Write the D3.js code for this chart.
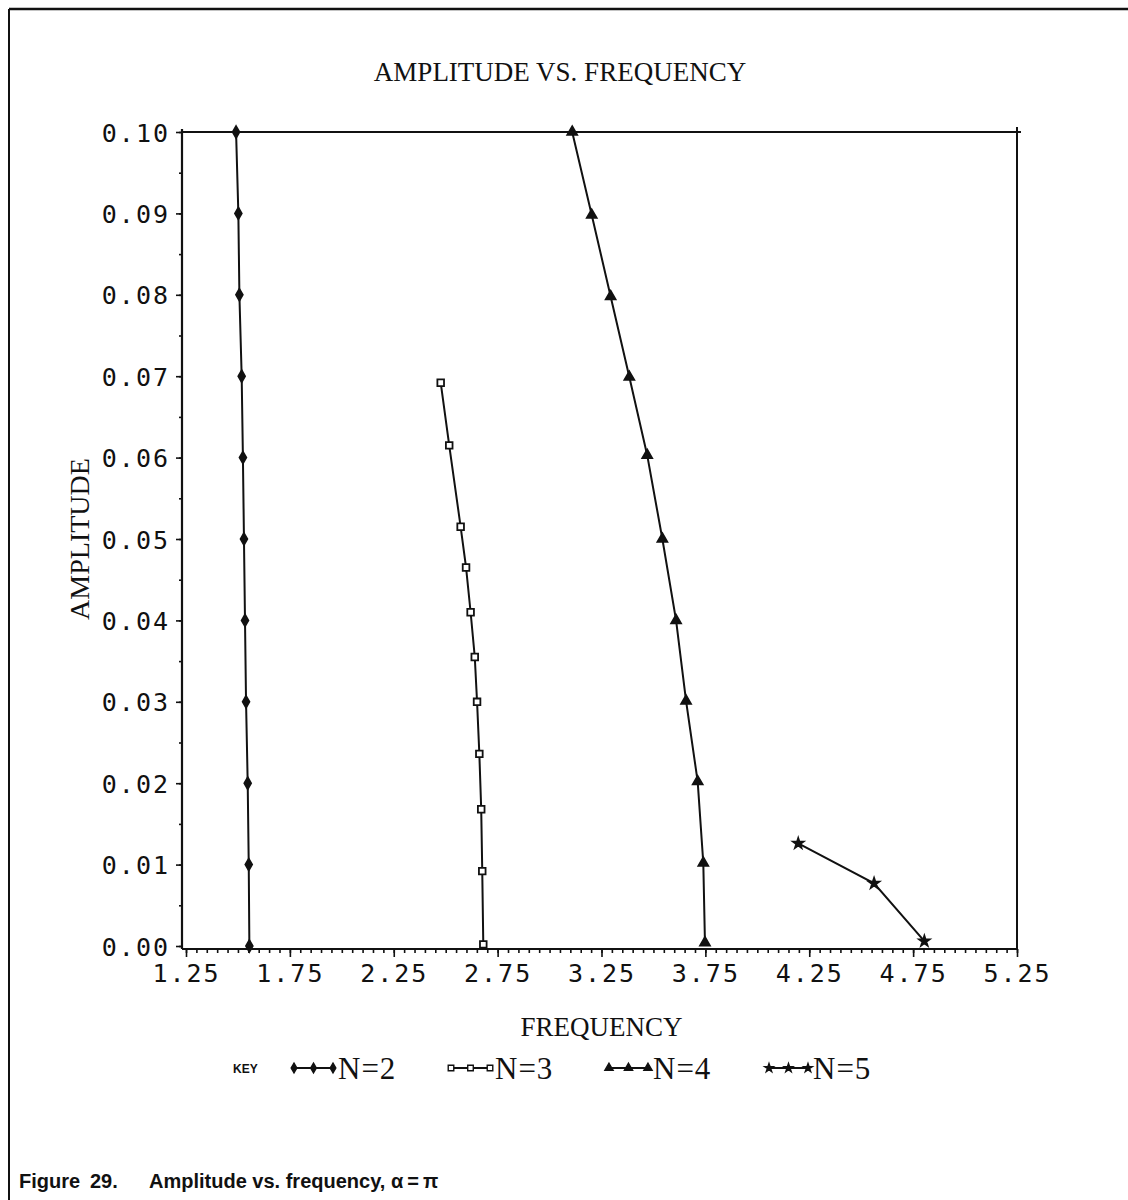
<!DOCTYPE html>
<html>
<head>
<meta charset="utf-8">
<script src="https://cdn.jsdelivr.net/npm/d3@7"></script>
<style>
  html, body { margin: 0; padding: 0; background: #fff; }
  svg { display: block; }
</style>
</head>
<body>
<script>
// ---- Data ----
const seriesNames = ["N=2", "N=3", "N=4", "N=5"];
const n2Freq = [1.491, 1.502, 1.507, 1.518, 1.524, 1.529, 1.534, 1.539, 1.547, 1.552, 1.555];
const n2Amp  = [0.100, 0.090, 0.080, 0.070, 0.060, 0.050, 0.040, 0.030, 0.020, 0.010, 0.000];
const n3Freq = [2.476, 2.517, 2.572, 2.598, 2.620, 2.640, 2.651, 2.662, 2.671, 2.676, 2.681];
const n3Amp  = [0.0692, 0.0615, 0.0515, 0.0465, 0.0410, 0.0355, 0.0300, 0.0236, 0.0168, 0.0092, 0.0002];
const n4Freq = [3.109, 3.203, 3.294, 3.384, 3.470, 3.543, 3.609, 3.657, 3.713, 3.740, 3.748];
const n4Amp  = [0.1000, 0.0898, 0.0798, 0.0699, 0.0603, 0.0500, 0.0400, 0.0301, 0.0202, 0.0102, 0.0004];
const n5Freq = [4.197, 4.562, 4.804];
const n5Amp  = [0.0126, 0.0077, 0.0006];
const xTicks = [1.25, 1.75, 2.25, 2.75, 3.25, 3.75, 4.25, 4.75, 5.25];
const yTicks = [0.00, 0.01, 0.02, 0.03, 0.04, 0.05, 0.06, 0.07, 0.08, 0.09, 0.10];
const titleText = "AMPLITUDE VS. FREQUENCY";
const xLabelText = "FREQUENCY";
const yLabelText = "AMPLITUDE";
const captionWord = "Figure";
const captionNum = "29.";
const captionText = "Amplitude vs. frequency, α\u2009=\u2009π";

// ---- Layout ----
const W = 1128, H = 1200;
const svg = d3.select("body").append("svg").attr("width", W).attr("height", H);

const x = d3.scaleLinear().domain([1.25, 5.25]).range([186, 1017]);
const y = d3.scaleLinear().domain([0, 0.10]).range([946, 132]);

const ink = "#111";
const monoFont = "'DejaVu Sans Mono', 'Liberation Mono', monospace";
const serifFont = "'Liberation Serif', 'DejaVu Serif', serif";
const sansFont = "'Liberation Sans', Arial, sans-serif";

// outer page frame (top and left edge)
svg.append("line").attr("x1", 9).attr("x2", W).attr("y1", 9).attr("y2", 9)
  .attr("stroke", ink).attr("stroke-width", 2.5);
svg.append("line").attr("x1", 9).attr("x2", 9).attr("y1", 9).attr("y2", H)
  .attr("stroke", ink).attr("stroke-width", 2);

// title
svg.append("text").attr("x", 560).attr("y", 81).attr("text-anchor", "middle")
  .attr("font-family", serifFont).attr("font-size", 27).attr("fill", ink)
  .text(titleText);

const xAxisY = y(0) + 3;
const yAxisX = x(1.25) - 4;

// plot frame: top and right lines
svg.append("line").attr("x1", yAxisX).attr("x2", x(5.25) + 4)
  .attr("y1", y(0.10)).attr("y2", y(0.10)).attr("stroke", ink).attr("stroke-width", 2);
svg.append("line").attr("x1", x(5.25)).attr("x2", x(5.25))
  .attr("y1", y(0.10) - 5).attr("y2", xAxisY).attr("stroke", ink).attr("stroke-width", 2);

// x axis
const xMinor = d3.range(0, 81).map(i => 1.25 + i * 0.05);
const gx = svg.append("g").attr("transform", `translate(0,${xAxisY})`);
gx.call(d3.axisBottom(x).tickValues(xMinor).tickSize(4).tickFormat(""));
gx.call(g => g.select(".domain").remove());
const gx2 = svg.append("g").attr("transform", `translate(0,${xAxisY})`)
  .call(d3.axisBottom(x).tickValues(xTicks).tickSize(8).tickPadding(5).tickFormat(d3.format(".2f")));
gx2.select(".domain").attr("d", `M${yAxisX},0H${x(5.25)}`);
[gx, gx2].forEach(g => {
  g.selectAll("line").attr("stroke", ink).attr("stroke-width", 1.6);
  g.select(".domain").attr("stroke", ink).attr("stroke-width", 2.2);
});
gx2.selectAll("text").attr("font-family", monoFont).attr("font-size", 25)
  .attr("letter-spacing", 2).attr("fill", ink).attr("dy", "0.78em");

// y axis
const yMinor = d3.range(0, 21).map(i => i * 0.005);
const gy = svg.append("g").attr("transform", `translate(${yAxisX},0)`);
gy.call(d3.axisLeft(y).tickValues(yMinor).tickSize(3).tickFormat(""));
gy.call(g => g.select(".domain").remove());
const gy2 = svg.append("g").attr("transform", `translate(${yAxisX},0)`)
  .call(d3.axisLeft(y).tickValues(yTicks).tickSize(6).tickPadding(6).tickFormat(d3.format(".2f")));
gy2.select(".domain").attr("d", `M0,${y(0.10) - 3}V${xAxisY}`);
[gy, gy2].forEach(g => {
  g.selectAll("line").attr("stroke", ink).attr("stroke-width", 1.6);
  g.select(".domain").attr("stroke", ink).attr("stroke-width", 2.2);
});
gy2.selectAll("text").attr("font-family", monoFont).attr("font-size", 25)
  .attr("letter-spacing", 2).attr("fill", ink).attr("dy", "0.36em");

// axis titles
svg.append("text").attr("x", (x(1.25) + x(5.25)) / 2).attr("y", 1036)
  .attr("text-anchor", "middle").attr("font-family", serifFont).attr("font-size", 27)
  .attr("fill", ink).text(xLabelText);
svg.append("text").attr("transform", `translate(89,${(y(0) + y(0.1)) / 2}) rotate(-90)`)
  .attr("text-anchor", "middle").attr("font-family", serifFont).attr("font-size", 28)
  .attr("fill", ink).text(yLabelText);

// ---- series ----
const zip = (fx, fy) => fx.map((v, i) => ({ f: v, a: fy[i] }));
const series = [
  { name: seriesNames[0], pts: zip(n2Freq, n2Amp), sym: d3.symbolDiamond, size: 40, fill: ink },
  { name: seriesNames[1], pts: zip(n3Freq, n3Amp), sym: d3.symbolSquare, size: 44, fill: "#fff" },
  { name: seriesNames[2], pts: zip(n4Freq, n4Amp), sym: d3.symbolTriangle, size: 42, fill: ink },
  { name: seriesNames[3], pts: zip(n5Freq, n5Amp), sym: d3.symbolStar, size: 34, fill: ink }
];

const line = d3.line().x(d => x(d.f)).y(d => y(d.a));
series.forEach(s => {
  svg.append("path").datum(s.pts).attr("d", line)
    .attr("fill", "none").attr("stroke", ink).attr("stroke-width", 2);
  svg.append("g").selectAll("path").data(s.pts).join("path")
    .attr("transform", d => `translate(${x(d.f)},${y(d.a)})`)
    .attr("d", d3.symbol().type(s.sym).size(s.size))
    .attr("fill", s.fill).attr("stroke", ink).attr("stroke-width", 1.8);
});

// ---- legend ----
const legendY = 1068;
svg.append("text").attr("x", 233).attr("y", legendY + 5)
  .attr("font-family", sansFont).attr("font-size", 12)
  .attr("font-weight", "bold").attr("fill", ink).text("KEY");
const legendX = [292, 449, 607, 767];
series.forEach((s, i) => {
  const g = svg.append("g").attr("transform", `translate(${legendX[i]},${legendY})`);
  g.append("line").attr("x1", 0).attr("x2", 43).attr("y1", 0).attr("y2", 0)
    .attr("stroke", ink).attr("stroke-width", 2);
  [2, 21.5, 41].forEach(px => {
    g.append("path").attr("transform", `translate(${px},0)`)
      .attr("d", d3.symbol().type(s.sym).size(s.size * 0.7))
      .attr("fill", s.fill).attr("stroke", ink).attr("stroke-width", 1.4);
  });
  g.append("text").attr("x", 46).attr("y", 11)
    .attr("font-family", serifFont).attr("font-size", 31).attr("letter-spacing", 1)
    .attr("fill", ink).text(s.name);
});

// ---- caption ----
const cap = svg.append("text").attr("y", 1188)
  .attr("font-family", sansFont).attr("font-size", 20)
  .attr("font-weight", "bold").attr("fill", ink);
cap.append("tspan").attr("x", 19).text(captionWord);
cap.append("tspan").attr("x", 90).text(captionNum);
cap.append("tspan").attr("x", 149).text(captionText);
</script>
</body>
</html>
